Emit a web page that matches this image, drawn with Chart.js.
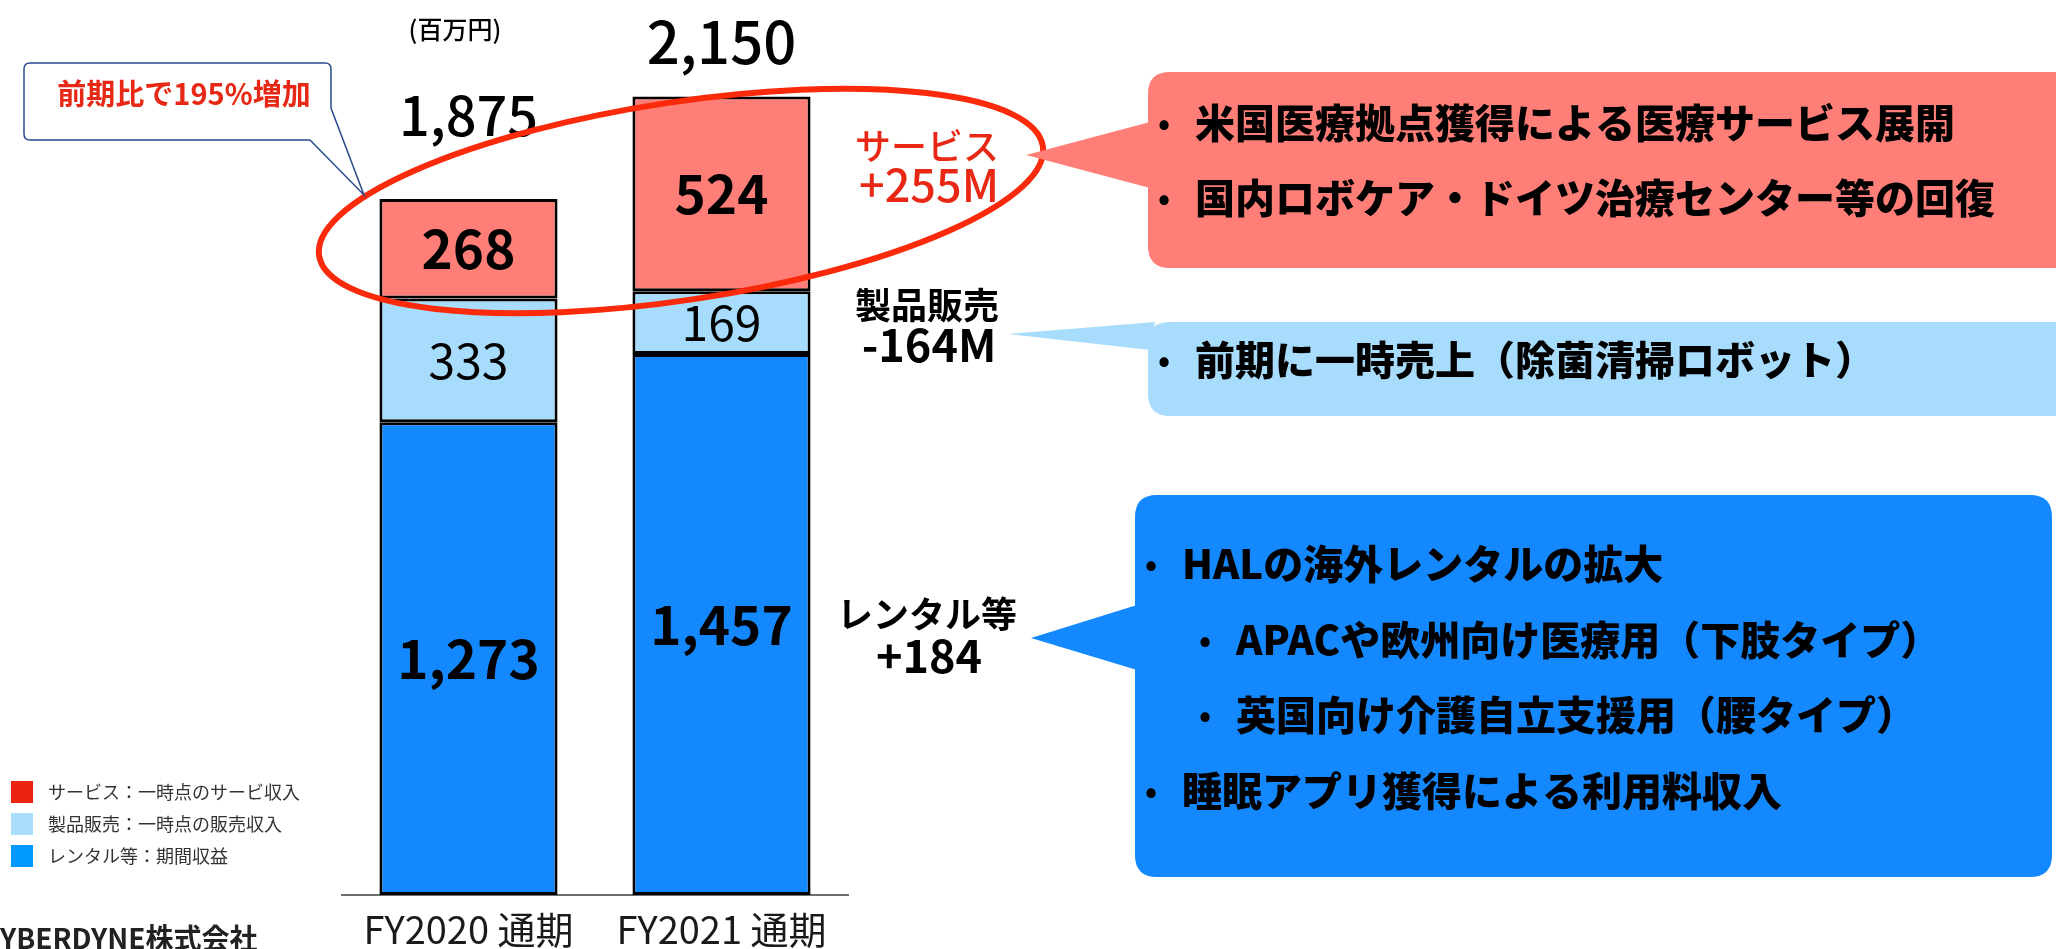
<!DOCTYPE html>
<html lang="ja">
<head>
<meta charset="utf-8">
<title>売上高の内訳</title>
<script src="https://cdn.jsdelivr.net/npm/chart.js@4.4.0/dist/chart.umd.min.js"></script>
<style>
  html, body { margin: 0; padding: 0; background: #fff; }
  .chart-container { position: relative; width: 2056px; height: 949px; }
</style>
</head>
<body>
<div class="chart-container"><canvas id="salesChart"></canvas></div>
<script>
// data (百万円)
const categories = ['FY2020 通期', 'FY2021 通期'];
const rentalValues = [1273, 1457];
const productValues = [333, 169];
const serviceValues = [268, 524];
const totals = [1875, 2150];
const seriesNames = ['レンタル等', '製品販売', 'サービス'];
const legendTexts = ['サービス：一時点のサービ収入', '製品販売：一時点の販売収入', 'レンタル等：期間収益'];
const changeLabels = [['サービス', '+255M'], ['製品販売', '-164M'], ['レンタル等', '+184']];
const serviceNotes = ['米国医療拠点獲得による医療サービス展開', '国内ロボケア・ドイツ治療センター等の回復'];
const productNotes = ['前期に一時売上（除菌清掃ロボット）'];
const rentalNotes = ['HALの海外レンタルの拡大', 'APACや欧州向け医療用（下肢タイプ）', '英国向け介護自立支援用（腰タイプ）', '睡眠アプリ獲得による利用料収入'];
const unitLabel = '(百万円)';
const growthNote = '前期比で195%増加';
const companyName = 'YBERDYNE株式会社';

const JP = '"Noto Sans CJK JP", "Noto Sans", sans-serif';
const barColors = ['#1489FF', '#A8DCFC', '#FF7F78'];
const legendColors = ['#EE2211', '#A9DDFB', '#0099FF'];
const fmt = v => v.toLocaleString('en-US');

function roundRect(ctx, x, y, w, h, r) {
  ctx.beginPath();
  ctx.moveTo(x + r, y);
  ctx.lineTo(x + w - r, y);
  ctx.quadraticCurveTo(x + w, y, x + w, y + r);
  ctx.lineTo(x + w, y + h - r);
  ctx.quadraticCurveTo(x + w, y + h, x + w - r, y + h);
  ctx.lineTo(x + r, y + h);
  ctx.quadraticCurveTo(x, y + h, x, y + h - r);
  ctx.lineTo(x, y + r);
  ctx.quadraticCurveTo(x, y, x + r, y);
  ctx.closePath();
}

function callout(ctx, color, box, tri) {
  ctx.fillStyle = color;
  roundRect(ctx, box[0], box[1], box[2], box[3], 22);
  ctx.fill();
  ctx.beginPath();
  ctx.moveTo(tri[0][0], tri[0][1]);
  ctx.lineTo(tri[1][0], tri[1][1]);
  ctx.lineTo(tri[2][0], tri[2][1]);
  ctx.closePath();
  ctx.fill();
}

function bullets(ctx, lines) {
  ctx.fillStyle = '#000';
  ctx.textAlign = 'left';
  ctx.textBaseline = 'middle';
  lines.forEach(([text, bx, y]) => {
    ctx.font = `900 40px ${JP}`;
    ctx.fillText(text, bx + 30, y);
    ctx.font = `bold 32px ${JP}`;
    ctx.fillText('•', bx - 7, y);
  });
}

const annotations = {
  id: 'annotations',
  afterDatasetsDraw(chart) {
    const { ctx } = chart;
    const xs = chart.scales.x, ys = chart.scales.y;
    ctx.save();
    ctx.textAlign = 'center';
    ctx.textBaseline = 'middle';

    // values inside the stacked segments
    chart.data.datasets.forEach((ds, i) => {
      chart.getDatasetMeta(i).data.forEach((bar, j) => {
        const light = i === 1;
        ctx.font = light ? `400 48px ${JP}` : `bold 53px ${JP}`;
        ctx.fillStyle = '#000';
        ctx.fillText(fmt(ds.data[j]), bar.x, (bar.y + bar.base) / 2);
      });
    });

    // totals above the bars
    const gaps = [83, 55];
    const sizes = [54, 58];
    totals.forEach((t, j) => {
      ctx.font = `500 ${sizes[j]}px ${JP}`;
      ctx.fillStyle = '#000';
      ctx.fillText(fmt(t), xs.getPixelForValue(j), ys.getPixelForValue(t) - gaps[j]);
    });

    ctx.font = `500 25px ${JP}`;
    ctx.fillText(unitLabel, 455, 29);

    // highlight ellipse around service segments
    ctx.strokeStyle = '#FA2A0A';
    ctx.lineWidth = 6;
    ctx.beginPath();
    ctx.ellipse(681, 201, 366, 99, -8.6 * Math.PI / 180, 0, Math.PI * 2);
    ctx.stroke();

    // growth callout (top left)
    ctx.beginPath();
    ctx.moveTo(30, 63);
    ctx.lineTo(325, 63);
    ctx.quadraticCurveTo(331, 63, 331, 69);
    ctx.lineTo(331, 108);
    ctx.lineTo(364, 195);
    ctx.lineTo(310, 140);
    ctx.lineTo(30, 140);
    ctx.quadraticCurveTo(24, 140, 24, 134);
    ctx.lineTo(24, 69);
    ctx.quadraticCurveTo(24, 63, 30, 63);
    ctx.closePath();
    ctx.fillStyle = '#fff';
    ctx.fill();
    ctx.strokeStyle = '#2B4A8F';
    ctx.lineWidth = 1.5;
    ctx.stroke();
    ctx.fillStyle = '#E62814';
    ctx.font = `bold 29px ${JP}`;
    ctx.fillText(growthNote, 184, 94);

    // change labels beside the bars
    const changeY = [[146, 185], [305, 345], [614, 656]];
    const changeColors = ['#E82814', '#000', '#000'];
    changeLabels.forEach((pair, k) => {
      ctx.fillStyle = changeColors[k];
      ctx.font = `${k === 0 ? 500 : 'bold'} 36px ${JP}`;
      ctx.fillText(pair[0], 927, changeY[k][0]);
      ctx.font = `${k === 0 ? 500 : 'bold'} 45px ${JP}`;
      ctx.fillText(pair[1], 929, changeY[k][1]);
    });

    // explanation boxes
    callout(ctx, '#FF7F78', [1148, 72, 940, 196], [[1150, 122], [1026, 155], [1150, 188]]);
    callout(ctx, '#A8DCFC', [1148, 322, 940, 94], [[1155, 322], [1008, 334], [1150, 350]]);
    callout(ctx, '#1489FF', [1135, 495, 917, 382], [[1137, 605], [1031, 638], [1137, 670]]);
    bullets(ctx, [[serviceNotes[0], 1165, 123], [serviceNotes[1], 1165, 198]]);
    bullets(ctx, [[productNotes[0], 1165, 360]]);
    bullets(ctx, [
      [rentalNotes[0], 1152, 564],
      [rentalNotes[1], 1206, 640],
      [rentalNotes[2], 1206, 715],
      [rentalNotes[3], 1152, 791]
    ]);

    // legend (bottom left)
    ctx.textAlign = 'left';
    ctx.font = `400 18px ${JP}`;
    legendTexts.forEach((t, k) => {
      const y = 792 + k * 32;
      ctx.fillStyle = legendColors[k];
      ctx.fillRect(11, y - 11, 22, 22);
      ctx.fillStyle = '#333';
      ctx.fillText(t, 48, y);
    });

    ctx.fillStyle = '#222';
    ctx.font = `bold 28px ${JP}`;
    ctx.textBaseline = 'alphabetic';
    ctx.fillText(companyName, 0, 949);
    ctx.restore();
  }
};

new Chart(document.getElementById('salesChart'), {
  type: 'bar',
  data: {
    labels: categories,
    datasets: [rentalValues, productValues, serviceValues].map((data, i) => ({
      label: seriesNames[i],
      data,
      backgroundColor: barColors[i],
      borderColor: '#000',
      borderWidth: 3,
      borderSkipped: false,
      barPercentage: 0.704,
      categoryPercentage: 1
    }))
  },
  options: {
    responsive: true,
    maintainAspectRatio: false,
    animation: false,
    layout: { padding: { left: 342, right: 1208, top: 0, bottom: 0 } },
    scales: {
      x: {
        stacked: true,
        grid: { display: false, drawTicks: false },
        border: { display: true, color: '#6e6e6e', width: 2 },
        ticks: { color: '#1a1a1a', font: { family: JP, size: 38, weight: '400' }, padding: 12, maxRotation: 0 },
        afterFit(scale) { scale.height = 54; }
      },
      y: { stacked: true, display: false, min: 0, max: 2410 }
    },
    plugins: { legend: { display: false }, tooltip: { enabled: false } }
  },
  plugins: [annotations]
});
</script>
</body>
</html>
